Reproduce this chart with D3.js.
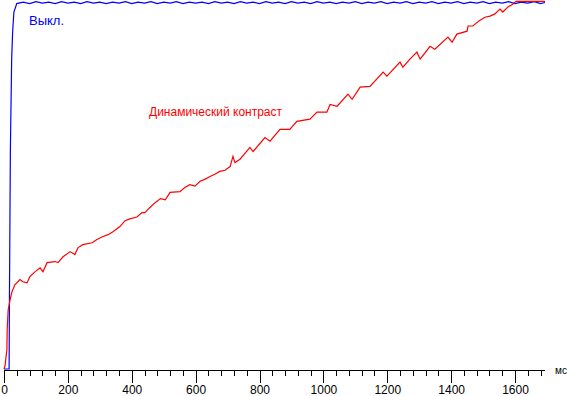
<html>
<head>
    <script src="https://d3js.org/d3.v7.min.js"></script>
    <style>
        body { margin: 0; background: white; }
        text { font-family: Arial, "Liberation Sans", sans-serif; }
    </style>
</head>
<body>
<svg id="chart" width="569" height="396"></svg>
<script>
    // red series: "Динамический контраст" (ms, % of max)
    const redMs  = [0, 3, 9, 10, 13, 19, 25, 34, 50, 59, 72, 81, 97, 113, 122, 135, 160, 169, 185, 207, 222, 232, 247, 276, 291, 310, 326, 341,
                    363, 379, 394, 416, 432, 441, 457, 473, 490, 505, 520, 551, 566, 582, 598, 614, 630, 645, 660, 676, 692, 708, 717, 723, 739, 770, 780, 817, 833, 864, 895, 917, 958, 980, 1011,
                    1021, 1043, 1077, 1090, 1115, 1146, 1187, 1199, 1240, 1249, 1271, 1293, 1303, 1334, 1349, 1390, 1403, 1418, 1450, 1453,
                    1468, 1487, 1506, 1522, 1537, 1553, 1562, 1578, 1594, 1603, 1647, 1694];
    const redVal = [0, 0.8, 5.2, 10.6, 16, 18.8, 21, 22.9, 24.3, 23.7, 23.4, 25.1, 26.4, 27.5, 26.4, 28.9, 29.2, 28.9, 30.5, 31.9, 31.1, 33.0, 33.8, 34.3, 35.2, 36.0, 36.5, 37.3,
                    38.7, 40.3, 40.8, 41.3, 42.5, 42.5, 43.9, 45.2, 46.3, 46.0, 48.0, 48.2, 49.3, 50.1, 49.7, 51.0, 51.6, 52.3, 52.9, 53.7, 54.0, 55.0, 57.8, 56.1, 57.0, 60.2, 59.1, 62.9, 61.9, 65.1, 65.1, 67.3, 67.9, 69.8, 69.8,
                    71.9, 71.4, 74.7, 73.3, 76.6, 76.8, 80.7, 79.6, 83.4, 82.0, 84.2, 86.1, 84.2, 87.7, 86.9, 90.2, 88.8, 91.0, 91.8, 93.2,
                    93.2, 94.6, 95.6, 95.9, 96.5, 97.8, 97.0, 98.4, 99.2, 99.9, 99.9, 99.9];

    // blue series: "Выкл."
    const blueMs  = [0, 16, 17, 20, 24, 27, 31, 40, 60, 80, 100, 120, 140, 160, 180, 200, 220, 240, 260, 280, 300, 320, 340, 360, 380, 400,
                     420, 440, 460, 480, 500, 520, 540, 560, 580, 600, 620, 640, 660, 680, 700, 720, 740, 760, 780, 800, 820, 840, 860, 880,
                     900, 920, 940, 960, 980, 1000, 1020, 1040, 1060, 1080, 1100, 1120, 1140, 1160, 1180, 1200, 1220, 1240, 1260, 1280, 1300,
                     1320, 1340, 1360, 1380, 1400, 1420, 1440, 1460, 1480, 1500, 1520, 1540, 1560, 1580, 1600, 1620, 1640, 1660, 1680, 1694];
    const blueVal = [0, 0, 18.8, 59.7, 84.2, 91.6, 97.0, 99.3, 99.7, 99.3, 99.8, 99.4, 99.7, 99.3, 99.8, 99.4, 99.7, 99.3, 99.8, 99.4, 99.7, 99.3, 99.7, 99.4, 99.8, 99.3,
                     99.7, 99.4, 99.8, 99.3, 99.7, 99.4, 99.8, 99.3, 99.7, 99.4, 99.7, 99.3, 99.8, 99.4, 99.7, 99.3, 99.8, 99.4, 99.7, 99.3, 99.8, 99.4, 99.7, 99.3,
                     99.8, 99.4, 99.7, 99.3, 99.8, 99.4, 99.7, 99.3, 99.7, 99.4, 99.8, 99.3, 99.7, 99.4, 99.8, 99.3, 99.7, 99.4, 99.8, 99.3, 99.7,
                     99.4, 99.8, 99.3, 99.7, 99.4, 99.8, 99.3, 99.7, 99.4, 99.8, 99.3, 99.7, 99.4, 99.8, 99.3, 99.7, 99.4, 99.8, 99.3, 99.6];

    const majorTicks = [0, 200, 400, 600, 800, 1000, 1200, 1400, 1600];
    const minorTicks = d3.range(0, 1700, 40);
    const unitLabel = "мс";
    const redLabel = "Динамический контраст";
    const blueLabel = "Выкл.";

    let svg = d3.select("svg#chart");

    let x = d3.scaleLinear().domain([0, 1600]).range([4, 515]);
    let y = d3.scaleLinear().domain([0, 100]).range([369, 1]);

    // axis
    let axisG = svg.append("g").attr("transform", "translate(0,370)");
    axisG.append("line")
        .attr("x1", x(0)).attr("x2", x(1694))
        .attr("y1", 0.5).attr("y2", 0.5)
        .attr("stroke", "black");

    axisG.append("g")
        .attr("transform", "translate(0,0.5)")
        .call(d3.axisBottom(x).tickValues(minorTicks).tickSize(5).tickFormat(""))
        .call(g => g.select(".domain").remove())
        .call(g => g.selectAll("line").attr("shape-rendering", "crispEdges"));

    axisG.append("g")
        .attr("transform", "translate(0,0.5)")
        .call(d3.axisBottom(x).tickValues(majorTicks).tickSize(12).tickPadding(3).tickFormat(d3.format("d")))
        .call(g => g.select(".domain").remove())
        .call(g => g.selectAll("line").attr("shape-rendering", "crispEdges"))
        .call(g => g.selectAll("text").attr("font-size", 12).attr("font-family", "Arial, 'Liberation Sans', sans-serif").attr("fill", "black"));

    svg.append("text")
        .attr("x", 555).attr("y", 374)
        .attr("font-size", 10)
        .text(unitLabel);

    let line = d3.line().x(d => x(d[0])).y(d => y(d[1]));

    svg.append("path")
        .datum(blueMs.map((m, i) => [m, blueVal[i]]))
        .attr("d", line)
        .attr("fill", "none")
        .attr("stroke", "#0000ff")
        .attr("stroke-width", 1.2);

    svg.append("path")
        .datum(redMs.map((m, i) => [m, redVal[i]]))
        .attr("d", line)
        .attr("fill", "none")
        .attr("stroke", "#ff0000")
        .attr("stroke-width", 1.2);

    svg.append("text")
        .attr("x", 29).attr("y", 25)
        .attr("font-size", 13)
        .attr("fill", "#0000ff")
        .text(blueLabel);

    svg.append("text")
        .attr("x", 149).attr("y", 116)
        .attr("font-size", 12)
        .attr("fill", "#ff0000")
        .text(redLabel);
</script>
</body>
</html>
